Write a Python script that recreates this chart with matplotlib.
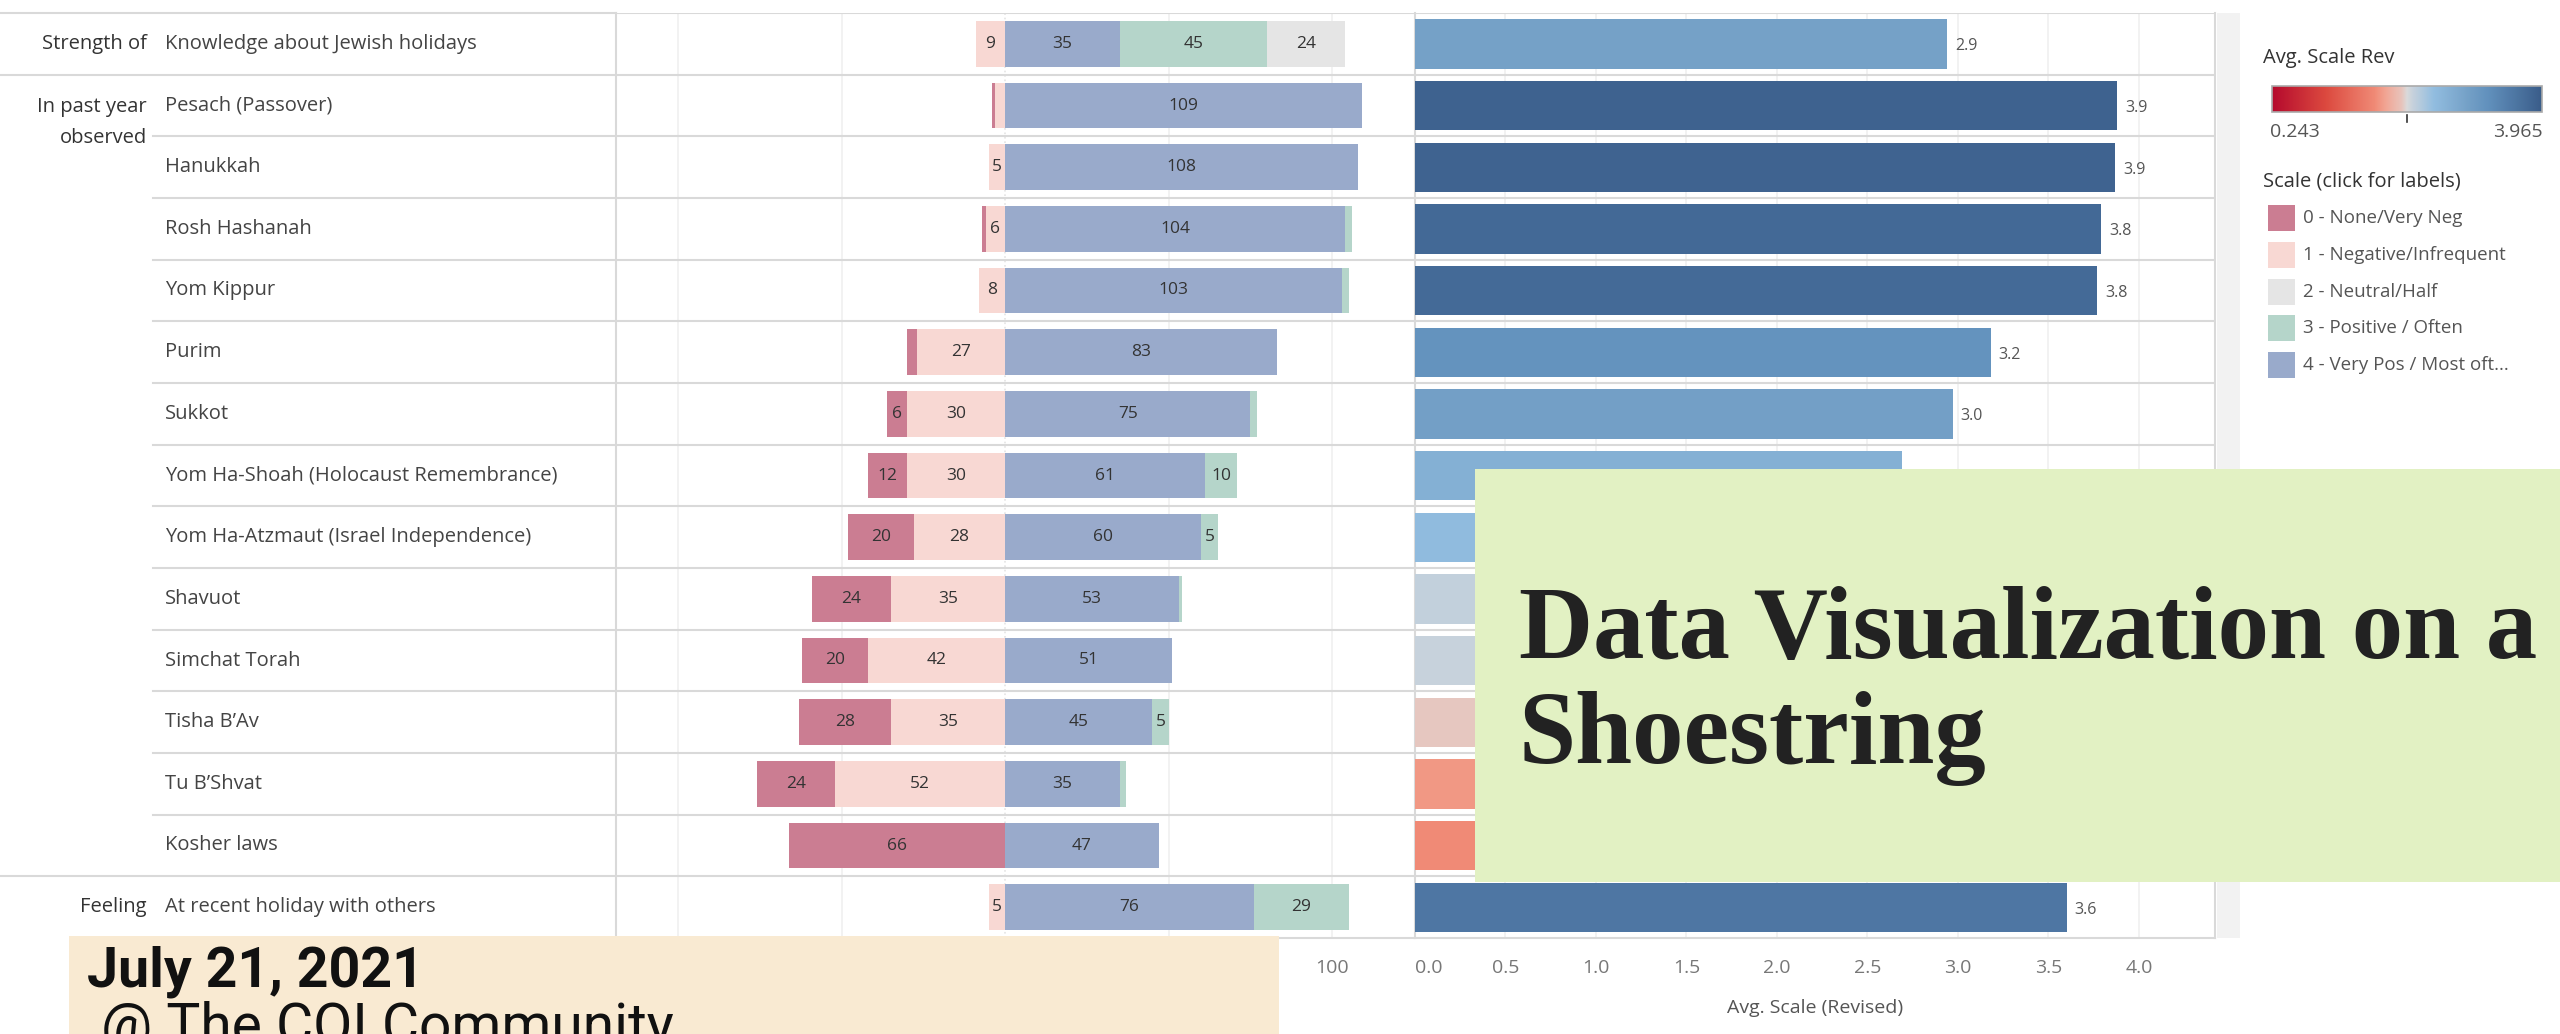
import matplotlib
matplotlib.use('Agg')
import matplotlib.pyplot as plt
import matplotlib.colors as mcolors
from matplotlib.patches import Rectangle
import numpy as np

plt.rcParams['font.family'] = ['Open Sans', 'DejaVu Sans']

W, H = 2560, 1034

# rows, top to bottom
items = ["Knowledge about Jewish holidays", "Pesach (Passover)", "Hanukkah",
         "Rosh Hashanah", "Yom Kippur", "Purim", "Sukkot",
         "Yom Ha-Shoah (Holocaust Remembrance)",
         "Yom Ha-Atzmaut (Israel Independence)", "Shavuot", "Simchat Torah",
         "Tisha B\u2019Av", "Tu B\u2019Shvat", "Kosher laws",
         "At recent holiday with others"]
groups = ["Strength of", "In past year\nobserved", "Feeling"]
group_rows = [0, 1, 14]

# responses per scale level
none_neg = [0, 1, 0, 1, 0, 3, 6, 12, 20, 24, 20, 28, 24, 66, 0]
negative = [9, 3, 5, 6, 8, 27, 30, 30, 28, 35, 42, 35, 52, 0, 5]
neutral = [24, 0, 0, 0, 0, 0, 0, 0, 0, 0, 0, 0, 0, 0, 0]
positive = [45, 0, 0, 2, 2, 0, 2, 10, 5, 1, 0, 5, 2, 0, 29]
very_pos = [35, 109, 108, 104, 103, 83, 75, 61, 60, 53, 51, 45, 35, 47, 76]

# average of revised scale
avg_scale = [2.94, 3.88, 3.87, 3.79, 3.77, 3.18, 2.97, 2.69, 2.50, 2.21,
             2.18, 2.04, 1.74, 1.66, 3.60]
avg_min, avg_max = 0.243, 3.965

scale_labels = ["0 - None/Very Neg", "1 - Negative/Infrequent", "2 - Neutral/Half",
                "3 - Positive / Often", "4 - Very Pos / Most oft..."]
scale_colors = ['#cb7d92', '#f8d8d3', '#e5e5e5', '#b5d5ca', '#99aacb']

div_ticks = [-100, -50, 0, 50, 100]
avg_ticks = [0, 0.5, 1.0, 1.5, 2.0, 2.5, 3.0, 3.5, 4.0]

cmap = mcolors.LinearSegmentedColormap.from_list(
    'redblue', [(0, '#b50a2d'), (0.2, '#dc4a3f'), (0.38, '#f08a76'),
                (0.42, '#f2a593'), (0.48, '#e8c4bc'), (0.5, '#dadada'),
                (0.52, '#c8d2dc'), (0.6, '#92bde0'), (0.72, '#76a2c8'),
                (0.8, '#6291bd'), (1.0, '#3a5d8a')])
norm = mcolors.Normalize(avg_min, avg_max)

n = len(items)
rows = np.arange(n)
line_c = '#d9d9d9'
top_px, bot_px = 13, 938

fig = plt.figure(figsize=(W / 100, H / 100), dpi=100)


def box(x0, x1):
    return [x0 / W, 1 - bot_px / H, (x1 - x0) / W, (bot_px - top_px) / H]


# labels column
axl = fig.add_axes(box(0, 616))
axl.set_xlim(0, 616)
axl.set_ylim(n - 0.5, -0.5)
axl.axis('off')
for r, name in enumerate(items):
    axl.text(165, r, name, va='center', ha='left', fontsize=14.5, color='#444')
for g, r in zip(groups, group_rows):
    if '\n' in g:
        axl.text(147, r - 0.13, g, va='top', ha='right', fontsize=14.5,
                 color='#333', linespacing=1.7)
    else:
        axl.text(147, r, g, va='center', ha='right', fontsize=14.5, color='#333')
for k in range(1, n):
    x0 = 0 if k in (1, n - 1) else 153
    axl.plot([x0, 616], [k - 0.5, k - 0.5], color=line_c, lw=1.5,
             clip_on=False)
axl.plot([0, 616], [-0.5, -0.5], color=line_c, lw=1.5, clip_on=False)

# diverging bars
ax1 = fig.add_axes(box(616, 1414))
ax1.set_xlim(-119, 125)
ax1.set_ylim(n - 0.5, -0.5)
h = 0.74
c0 = np.array(none_neg)
c1 = np.array(negative)
c2 = np.array(neutral)
c3 = np.array(positive)
c4 = np.array(very_pos)
segs = [(-c1 - c0, c0, 0), (-c1, c1, 1), (np.zeros(n), c4, 4),
        (c4, c3, 3), (c4 + c3, c2, 2)]
for left, width, lvl in segs:
    ax1.barh(rows, width, left=left, height=h, color=scale_colors[lvl], zorder=3)
    for r in rows:
        if width[r] >= 5:
            ax1.text(left[r] + width[r] / 2, r, str(width[r]), ha='center',
                     va='center', fontsize=12.5, color='#333', zorder=4)
for x in div_ticks:
    ax1.axvline(x, color='#e4e4e4' if x == 0 else '#f0f0f0', lw=1.2,
                ls=':' if x == 0 else '-', zorder=1)
for k in range(0, n):
    ax1.axhline(k - 0.5, color=line_c, lw=1.5, zorder=2)
ax1.set_xticks(div_ticks)
ax1.set_xticklabels([str(abs(t)) for t in div_ticks])
ax1.set_yticks([])
ax1.tick_params(axis='x', length=0, pad=15, labelsize=14, labelcolor='#777')
for s in ['top', 'right']:
    ax1.spines[s].set_visible(False)
ax1.spines['left'].set_color(line_c)
ax1.spines['bottom'].set_color(line_c)
ax1.spines['left'].set_linewidth(1.5)
ax1.spines['bottom'].set_linewidth(1.5)

# average bars
ax2 = fig.add_axes(box(1415, 2215))
ax2.set_xlim(0, 4.42)
ax2.set_ylim(n - 0.5, -0.5)
ax2.barh(rows, avg_scale, height=0.8, color=cmap(norm(np.array(avg_scale))),
         zorder=3)
for r, v in enumerate(avg_scale):
    ax2.text(v + 0.045, r + 0.04, f'{v:.1f}', va='center', ha='left',
             fontsize=11.5, color='#555', zorder=4)
for x in avg_ticks[1:]:
    ax2.axvline(x, color='#f0f0f0', lw=1.2, zorder=1)
for k in range(0, n):
    ax2.axhline(k - 0.5, color=line_c, lw=1.5, zorder=2)
ax2.set_xticks(avg_ticks)
ax2.set_xticklabels([f'{t:.1f}' for t in avg_ticks])
ax2.get_xticklabels()[0].set_ha('left')
ax2.set_yticks([])
ax2.tick_params(axis='x', length=0, pad=15, labelsize=14, labelcolor='#777')
ax2.set_xlabel('Avg. Scale (Revised)', fontsize=14, color='#555', labelpad=16)
ax2.spines['top'].set_visible(False)
for s in ['left', 'right', 'bottom']:
    ax2.spines[s].set_color(line_c)
    ax2.spines[s].set_linewidth(1.5)

# overlay in pixel coordinates
ov = fig.add_axes([0, 0, 1, 1], zorder=10)
ov.set_xlim(0, W)
ov.set_ylim(H, 0)
ov.axis('off')

ov.add_patch(Rectangle((2217, top_px), 23, bot_px - top_px, color='#f2f2f2', lw=0))

# legend
ov.text(2263, 58, 'Avg. Scale Rev', fontsize=14.5, color='#333', va='center')
grad = np.linspace(0, 1, 256).reshape(1, -1)
ov.imshow(grad, cmap=cmap, extent=(2272, 2542, 112, 86), aspect='auto', zorder=2)
ov.add_patch(Rectangle((2272, 86), 270, 26, fill=False, ec='#aaaaaa', lw=1.2, zorder=3))
ov.plot([2407, 2407], [115, 122], color='#333', lw=1.2)
ov.text(2270, 132, f'{avg_min:.3f}', fontsize=14, color='#555', va='center', ha='left')
ov.text(2543, 132, f'{avg_max:.3f}', fontsize=14, color='#555', va='center', ha='right')
ov.text(2263, 182, 'Scale (click for labels)', fontsize=14.5, color='#333', va='center')
for i, (lab, col) in enumerate(zip(scale_labels, scale_colors)):
    y = 218 + i * 36.8
    ov.add_patch(Rectangle((2268, y - 13), 27, 26, color=col, lw=0))
    ov.text(2303, y, lab, fontsize=13.5, color='#555', va='center', ha='left')

# title box
ov.add_patch(Rectangle((1475, 469), W - 1475, 413, color='#e2f1c3', lw=0, zorder=5))
ov.text(1519, 658, 'Data Visualization on a', family='Liberation Serif',
        fontweight='bold', fontsize=74, color='#222', va='baseline', zorder=6)
ov.text(1519, 763, 'Shoestring', family='Liberation Serif',
        fontweight='bold', fontsize=74, color='#222', va='baseline', zorder=6)

# date box
ov.add_patch(Rectangle((69, 936), 1279 - 69, H - 936, color='#f9ead2', lw=0, zorder=5))
ov.text(87, 986, 'July 21, 2021', family='Roboto', fontweight='bold',
        fontsize=40, color='#111', va='baseline', zorder=6)
ov.text(101, 1044, '@ The COI Community', family='Roboto', fontsize=41,
        color='#111', va='baseline', zorder=6, clip_on=False)

fig.savefig('out.png', dpi=100)
